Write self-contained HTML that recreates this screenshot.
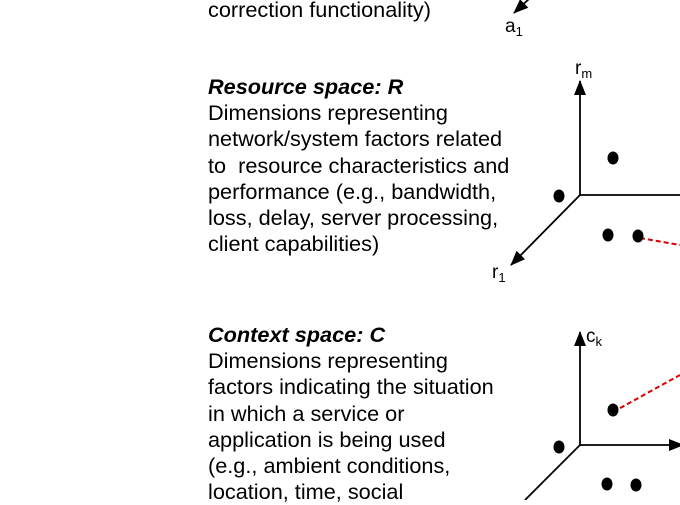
<!DOCTYPE html>
<html><head><style>
body{margin:0;width:680px;height:500px;overflow:hidden;background:#fff;position:relative;font-family:"Liberation Sans",Arial,sans-serif;color:#000}
.t{position:absolute;left:208px;font-size:21.7px;line-height:26.2px;white-space:pre}
.h{font-weight:bold;font-style:italic}
</style></head><body>
<div class="t" style="top:-3px">correction functionality)</div>
<div class="t" style="top:74px"><span class="h">Resource space: R</span>
Dimensions representing
network/system factors related
to  resource characteristics and
performance (e.g., bandwidth,
loss, delay, server processing,
client capabilities)</div>
<div class="t" style="top:322px"><span class="h">Context space: C</span>
Dimensions representing
factors indicating the situation
in which a service or
application is being used
(e.g., ambient conditions,
location, time, social</div>
<svg width="680" height="500" style="position:absolute;left:0;top:0">
<defs><marker id="a" markerWidth="16" markerHeight="12" refX="14" refY="6" orient="auto" markerUnits="userSpaceOnUse"><path d="M0,0 L15,6 L0,12 z" fill="#000"/></marker></defs>
<g stroke="#000" stroke-width="1.8" fill="none">
<line x1="530" y1="-2" x2="514" y2="13" marker-end="url(#a)"/>
<line x1="580" y1="195" x2="580" y2="81" marker-end="url(#a)"/>
<line x1="580" y1="195" x2="680" y2="195"/>
<line x1="580" y1="195" x2="511" y2="265" marker-end="url(#a)"/>
<line x1="580" y1="445" x2="580" y2="332" marker-end="url(#a)"/>
<line x1="580" y1="445" x2="683" y2="445" marker-end="url(#a)"/>
<line x1="580" y1="445" x2="525" y2="500"/>
</g>
<g stroke="#d00" stroke-width="2" stroke-dasharray="5,3">
<line x1="640" y1="238" x2="680" y2="245"/>
<line x1="613" y1="412" x2="680" y2="375"/>
</g>
<g fill="#000">
<ellipse cx="613" cy="158" rx="5.5" ry="6.5"/><ellipse cx="559" cy="196" rx="5.5" ry="6.5"/>
<ellipse cx="608" cy="235" rx="5.5" ry="6.5"/><ellipse cx="638" cy="236" rx="5.5" ry="6.5"/>
<ellipse cx="613" cy="410" rx="5.5" ry="6.5"/><ellipse cx="559" cy="447" rx="5.5" ry="6.5"/>
<ellipse cx="607" cy="484" rx="5.5" ry="6.5"/><ellipse cx="636" cy="485" rx="5.5" ry="6.5"/>
</g>
<g font-family="Liberation Sans,Arial,sans-serif" font-size="19">
<text x="505" y="32">a<tspan font-size="13" dy="4">1</tspan></text>
<text x="575" y="74">r<tspan font-size="13" dy="4">m</tspan></text>
<text x="492" y="278">r<tspan font-size="13" dy="4">1</tspan></text>
<text x="586" y="342">c<tspan font-size="13" dy="4">k</tspan></text>
</g>
</svg>
</body></html>
